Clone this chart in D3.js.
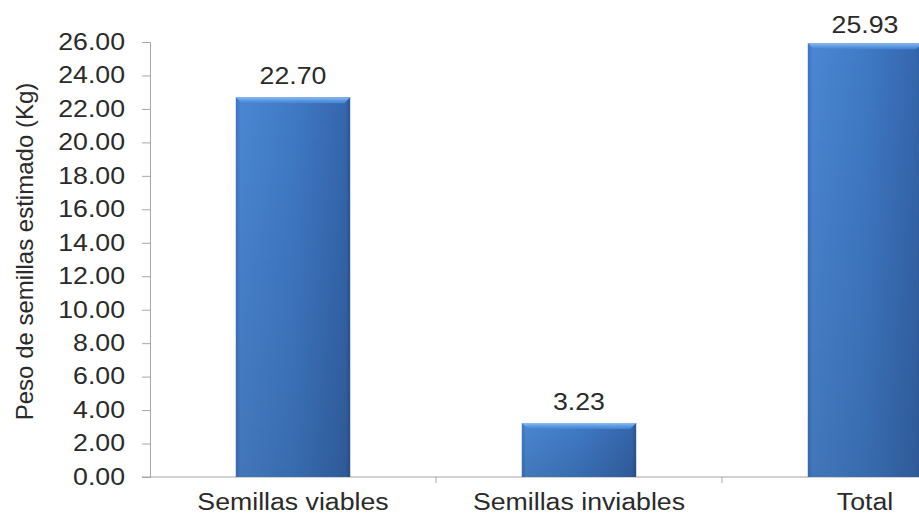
<!DOCTYPE html>
<html>
<head>
<meta charset="utf-8">
<script src="https://cdn.jsdelivr.net/npm/d3@7"></script>
<style>
  html, body { margin: 0; padding: 0; background: #fff; }
  svg { display: block; }
  text { font-family: "Liberation Sans", Arial, sans-serif; fill: #2a2a2a; }
</style>
</head>
<body>
<svg id="chart" width="919" height="514"></svg>
<script>
// Estimated seed weight per category (kg)
const categories = ["Semillas viables", "Semillas inviables", "Total"];
const values = [22.70, 3.23, 25.93];
const yTicks = [0, 2, 4, 6, 8, 10, 12, 14, 16, 18, 20, 22, 24, 26];
const yTitle = "Peso de semillas estimado (Kg)";

const svg = d3.select("#chart");
const margin = { left: 150, top: 42, bottom: 37 };
const height = 514;
const plotW = 858; // plot continues past the right edge of the window
const fontSize = 23;
const widen = 1.16; // labels are set slightly wide

const x = d3.scaleBand().domain(categories).range([margin.left, margin.left + plotW]).paddingInner(0.6).paddingOuter(0.3);
const y = d3.scaleLinear().domain([0, 26]).range([height - margin.bottom, margin.top]);

// Bar fill: horizontal shading plus a lighter bevel along the top
const defs = svg.append("defs");
const g = defs.append("linearGradient").attr("id", "barFill").attr("x1", 0).attr("x2", 1).attr("y1", 0).attr("y2", 0);
g.append("stop").attr("offset", 0).attr("stop-color", "#3c74bf");
g.append("stop").attr("offset", 0.04).attr("stop-color", "#4a86d2");
g.append("stop").attr("offset", 0.5).attr("stop-color", "#3f7ac6");
g.append("stop").attr("offset", 0.96).attr("stop-color", "#3566ad");
g.append("stop").attr("offset", 1).attr("stop-color", "#2c578f");
const gv = defs.append("linearGradient").attr("id", "barShade").attr("x1", 0).attr("x2", 0).attr("y1", 0).attr("y2", 1);
gv.append("stop").attr("offset", 0).attr("stop-color", "#000").attr("stop-opacity", 0);
gv.append("stop").attr("offset", 1).attr("stop-color", "#000").attr("stop-opacity", 0.12);
const gt = defs.append("linearGradient").attr("id", "bevel").attr("x1", 0).attr("x2", 0).attr("y1", 0).attr("y2", 1);
gt.append("stop").attr("offset", 0).attr("stop-color", "#8fbdf0");
gt.append("stop").attr("offset", 0.5).attr("stop-color", "#5e9be2");
gt.append("stop").attr("offset", 1).attr("stop-color", "#4582cf");

// Stretch a text's glyphs horizontally while keeping its anchor
function widenText(sel, f) {
  sel.each(function () {
    const len = this.getComputedTextLength();
    d3.select(this).attr("textLength", len * f).attr("lengthAdjust", "spacingAndGlyphs");
  });
}

// Y axis
const yAxis = d3.axisLeft(y).tickValues(yTicks).tickFormat(d3.format(".2f")).tickSize(8).tickPadding(17);
const ya = svg.append("g").attr("transform", `translate(${margin.left},0)`).call(yAxis);
ya.select(".domain").attr("stroke", "#a6a6a6");
ya.selectAll(".tick line").attr("stroke", "#a6a6a6");
ya.selectAll(".tick text").attr("font-size", fontSize).style("fill", "#2a2a2a").call(widenText, widen);

// X axis with ticks between categories
const xa = svg.append("g").attr("transform", `translate(0,${y(0)})`);
xa.append("line").attr("x1", margin.left - 8).attr("x2", margin.left + plotW).attr("stroke", "#a6a6a6");
const step = x.step();
const bounds = categories.map(c => x(c) - (step - x.bandwidth()) / 2);
xa.selectAll(".sep").data(bounds.slice(1)).join("line")
  .attr("x1", d => d).attr("x2", d => d).attr("y1", 0).attr("y2", 6).attr("stroke", "#a6a6a6");
xa.selectAll(".cat").data(categories).join("text")
  .attr("x", d => x(d) + x.bandwidth() / 2).attr("y", 33)
  .attr("text-anchor", "middle").attr("font-size", fontSize).text(d => d)
  .call(widenText, widen);

// Bars
const bars = svg.append("g").selectAll("g").data(categories.map((c, i) => ({ c, v: values[i] }))).join("g");
bars.append("rect").attr("x", d => x(d.c)).attr("y", d => y(d.v)).attr("width", x.bandwidth()).attr("height", d => y(0) - y(d.v)).attr("fill", "url(#barFill)");
bars.append("rect").attr("x", d => x(d.c)).attr("y", d => y(d.v)).attr("width", x.bandwidth()).attr("height", d => y(0) - y(d.v)).attr("fill", "url(#barShade)");
bars.append("path").attr("d", d => {
  const x0 = x(d.c), x1 = x0 + x.bandwidth(), t = y(d.v), b = 6;
  return `M${x0},${t}L${x1},${t}L${x1 - b},${t + b}L${x0 + b},${t + b}Z`;
}).attr("fill", "url(#bevel)");

// Value labels, kept inside the top edge
bars.append("text").attr("x", d => x(d.c) + x.bandwidth() / 2).attr("y", d => Math.max(y(d.v) - 13, 33))
  .attr("text-anchor", "middle").attr("font-size", fontSize).text(d => d3.format(".2f")(d.v))
  .call(widenText, widen);

// Y axis title
svg.append("text").attr("transform", `translate(33,${(y(0) + y(26)) / 2 - 8}) rotate(-90)`)
  .attr("text-anchor", "middle").attr("font-size", 24).text(yTitle);
</script>
</body>
</html>
